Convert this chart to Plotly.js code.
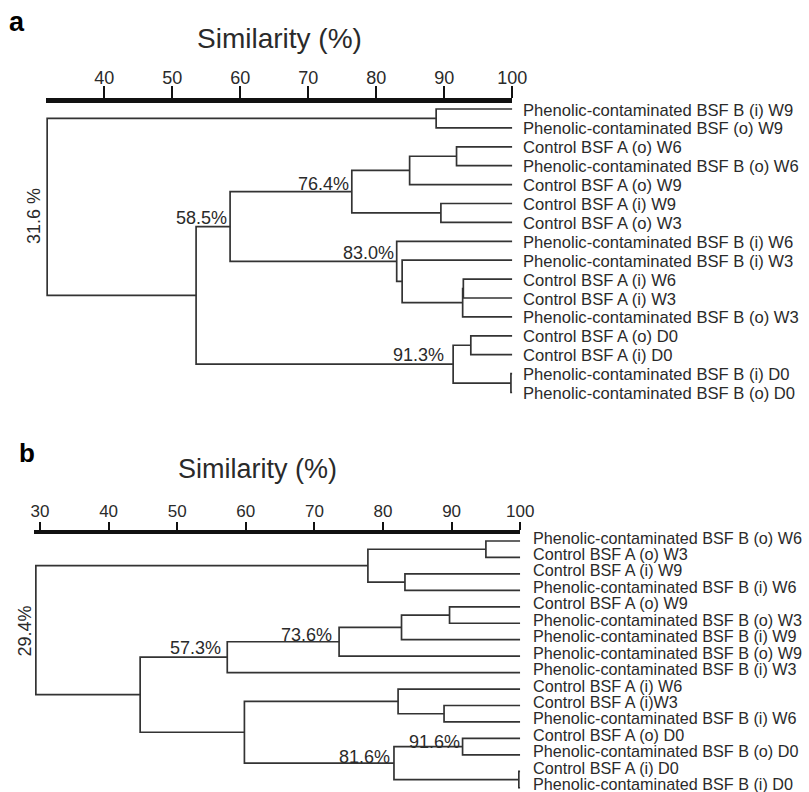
<!DOCTYPE html>
<html><head><meta charset="utf-8">
<script src="https://cdn.plot.ly/plotly-3.0.1.min.js"></script>
<style>html,body{margin:0;padding:0;background:#fff}#chart{width:809px;height:792px}</style>
</head><body><div id="chart"></div>
<script>
// ---------- Panel a data ----------
const leavesA = [
  "Phenolic-contaminated BSF B (i) W9",
  "Phenolic-contaminated BSF (o) W9",
  "Control BSF A (o) W6",
  "Phenolic-contaminated BSF B (o) W6",
  "Control BSF A (o) W9",
  "Control BSF A (i) W9",
  "Control BSF A (o) W3",
  "Phenolic-contaminated BSF B (i) W6",
  "Phenolic-contaminated BSF B (i) W3",
  "Control BSF A (i) W6",
  "Control BSF A (i) W3",
  "Phenolic-contaminated BSF B (o) W3",
  "Control BSF A (o) D0",
  "Control BSF A (i) D0",
  "Phenolic-contaminated BSF B (i) D0",
  "Phenolic-contaminated BSF B (o) D0"
];
// internal nodes: ids 16.. ; children refer to leaf index or node id
const nodeLeftA  = [0, 2, 17, 5, 18, 9, 21, 8, 7, 20, 12, 14, 26, 25, 16];
const nodeRightA = [1, 3, 4, 6, 19, 10, 11, 22, 23, 24, 13, 15, 27, 28, 29];
const nodeSimA   = [88.8, 91.8, 84.9, 89.5, 76.4, 92.8, 92.7, 83.8, 83.0, 58.5, 93.9, 99.8, 91.3, 53.5, 31.6];
const nodeLabelA = ["", "", "", "", "76.4%", "", "", "", "83.0%", "58.5%", "", "", "91.3%", "", "31.6 %"];
const ticksA = [40, 50, 60, 70, 80, 90, 100];

// ---------- Panel b data ----------
const leavesB = [
  "Phenolic-contaminated BSF B (o) W6",
  "Control BSF A (o) W3",
  "Control BSF A (i) W9",
  "Phenolic-contaminated BSF B (i) W6",
  "Control BSF A (o) W9",
  "Phenolic-contaminated BSF B (o) W3",
  "Phenolic-contaminated BSF B (i) W9",
  "Phenolic-contaminated BSF B (o) W9",
  "Phenolic-contaminated BSF B (i) W3",
  "Control BSF A (i) W6",
  "Control BSF A (i)W3",
  "Phenolic-contaminated BSF B (i) W6",
  "Control BSF A (o) D0",
  "Phenolic-contaminated BSF B (o) D0",
  "Control BSF A (i) D0",
  "Phenolic-contaminated BSF B (i) D0"
];
const nodeLeftB  = [0, 2, 16, 4, 19, 20, 21, 10, 9, 12, 14, 25, 24, 22, 18];
const nodeRightB = [1, 3, 17, 5, 6, 7, 8, 11, 23, 13, 15, 26, 27, 28, 29];
const nodeSimB   = [95.0, 83.2, 77.8, 89.7, 82.7, 73.6, 57.3, 88.9, 82.2, 91.6, 99.8, 81.6, 59.8, 44.6, 29.4];
const nodeLabelB = ["", "", "", "", "", "73.6%", "57.3%", "", "", "91.6%", "", "81.6%", "", "", "29.4%"];
const ticksB = [30, 40, 50, 60, 70, 80, 90, 100];

// ---------- drawing ----------
const W = 809, H = 792;
const FONT = "Liberation Sans, Arial, Helvetica, sans-serif";
const LINE = "#333333", TXT = "#2a2a2a";

function buildTree(leaves, left, right, sim) {
  const n = leaves.length, N = n + left.length;
  const x = new Array(N), y = new Array(N);
  for (let i = 0; i < n; i++) { x[i] = 100; y[i] = i; }
  for (let k = 0; k < left.length; k++) {
    const id = n + k;
    x[id] = sim[k];
    y[id] = (y[left[k]] + y[right[k]]) / 2;
  }
  const xs = [], ys = [];
  for (let k = 0; k < left.length; k++) {
    const id = n + k, a = left[k], b = right[k];
    xs.push(x[a], x[id], x[id], x[b], null);
    ys.push(y[a], y[a], y[b], y[b], null);
  }
  return {x, y, xs, ys, n};
}

const tA = buildTree(leavesA, nodeLeftA, nodeRightA, nodeSimA);
const tB = buildTree(leavesB, nodeLeftB, nodeRightB, nodeSimB);

// pixel geometry (placement only)
const geoA = {xl: 45.8, xr: 512.3, r0: 31.4, yt: 103, yb: 405, y0: 109, dy: 18.9};
const geoB = {xl: 33.8, xr: 520.2, r0: 29.1, yt: 533.8, yb: 792, y0: 541, dy: 16.45};

function axes(g) {
  return {
    xdom: [g.xl / W, g.xr / W],
    ydom: [1 - g.yb / H, 1 - g.yt / H],
    yrange: [(g.yb - g.y0) / g.dy, (g.yt - g.y0) / g.dy]
  };
}
const axA = axes(geoA), axB = axes(geoB);

const traces = [
  {type: "scatter", mode: "lines", x: tA.xs, y: tA.ys, xaxis: "x", yaxis: "y",
   line: {color: LINE, width: 1.7}, hoverinfo: "skip", showlegend: false, connectgaps: false},
  {type: "scatter", mode: "lines", x: tB.xs, y: tB.ys, xaxis: "x2", yaxis: "y2",
   line: {color: LINE, width: 1.7}, hoverinfo: "skip", showlegend: false, connectgaps: false}
];

const ann = [];
// leaf labels
leavesA.forEach((t, i) => ann.push({text: t, x: 100, y: i, xref: "x", yref: "y", xanchor: "left", yanchor: "middle",
  xshift: 9, yshift: -1, showarrow: false, font: {family: FONT, size: 16.6, color: TXT}}));
leavesB.forEach((t, i) => ann.push({text: t, x: 100, y: i, xref: "x2", yref: "y2", xanchor: "left", yanchor: "middle",
  xshift: 11, yshift: 3.5, showarrow: false, font: {family: FONT, size: 16.2, color: TXT}}));

// node labels (shift = placement styling)
const shiftA = {4: [-1, 8], 8: [-1, 8.5], 9: [-1, 9], 12: [-7, 9]};
const shiftB = {5: [-5, 7], 6: [-4, 8.7], 9: [-1, 5], 11: [-2, 6.5]};
function nodeLabels(t, labels, shifts, xr, yr, rootShift) {
  labels.forEach((lab, k) => {
    if (!lab) return;
    const id = t.n + k;
    if (k === labels.length - 1) {
      ann.push({text: lab, x: t.x[id], y: t.y[id], xref: xr, yref: yr, xanchor: "center", yanchor: "middle",
        xshift: rootShift[0], yshift: rootShift[1], textangle: -90, showarrow: false,
        font: {family: FONT, size: 18, color: TXT}});
    } else {
      const s = shifts[k] || [0, 8];
      ann.push({text: lab, x: t.x[id], y: t.y[id], xref: xr, yref: yr, xanchor: "right", yanchor: "middle",
        xshift: s[0], yshift: s[1], showarrow: false, font: {family: FONT, size: 18, color: TXT}});
    }
  });
}
nodeLabels(tA, nodeLabelA, shiftA, "x", "y", [-13, -9]);
nodeLabels(tB, nodeLabelB, shiftB, "x2", "y2", [-10.5, -1]);

// titles and panel letters
ann.push({text: "Similarity (%)", x: 279 / W, y: 1 - 39 / H, xref: "paper", yref: "paper", xanchor: "center", yanchor: "middle",
  showarrow: false, font: {family: FONT, size: 28, color: TXT}});
ann.push({text: "Similarity (%)", x: 257 / W, y: 1 - 469 / H, xref: "paper", yref: "paper", xanchor: "center", yanchor: "middle",
  showarrow: false, font: {family: FONT, size: 27, color: TXT}});
ann.push({text: "<b>a</b>", x: 16.5 / W, y: 1 - 22 / H, xref: "paper", yref: "paper", xanchor: "center", yanchor: "middle",
  showarrow: false, font: {family: FONT, size: 27, color: "#000"}});
ann.push({text: "<b>b</b>", x: 27 / W, y: 1 - 453 / H, xref: "paper", yref: "paper", xanchor: "center", yanchor: "middle",
  showarrow: false, font: {family: FONT, size: 26, color: "#000"}});

function xaxisCfg(dom, r0, ticks, anchor, lw, tl, fs, standoff) {
  return {domain: dom, range: [r0, 100], side: "top", anchor: anchor,
    showline: true, linewidth: lw, linecolor: "#111", ticks: "outside", ticklen: tl, tickwidth: 2, tickcolor: "#111",
    tickmode: "array", tickvals: ticks, ticktext: ticks.map(String), tickfont: {family: FONT, size: fs, color: TXT},
    ticklabelstandoff: standoff,
    showgrid: false, zeroline: false, fixedrange: true};
}

const layout = {
  width: W, height: H, margin: {l: 0, r: 0, t: 0, b: 0},
  paper_bgcolor: "#fff", plot_bgcolor: "#fff", showlegend: false,
  xaxis: xaxisCfg(axA.xdom, geoA.r0, ticksA, "y", 5, 12, 18, -5),
  yaxis: {domain: axA.ydom, range: axA.yrange, visible: false, fixedrange: true},
  xaxis2: xaxisCfg(axB.xdom, geoB.r0, ticksB, "y2", 4, 8, 17, -2),
  yaxis2: {domain: axB.ydom, range: axB.yrange, visible: false, fixedrange: true},
  annotations: ann
};

Plotly.newPlot("chart", traces, layout, {staticPlot: true, displayModeBar: false});
</script>
</body></html>
